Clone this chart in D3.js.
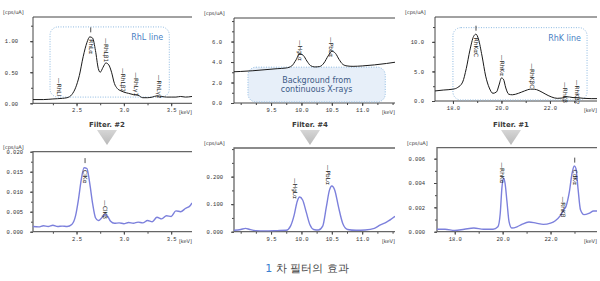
<!DOCTYPE html>
<html lang="ko">
<head>
<meta charset="utf-8">
<title>1 차 필터의 효과</title>
<script src="https://d3js.org/d3.v7.min.js"></script>
<style>
  body { margin: 0; background: #fff; }
  svg text { font-family: "DejaVu Sans", sans-serif; }
  .tick text { font-family: "Liberation Mono", monospace; font-size: 5.5px; fill: #333; }
  .tick line { stroke: #444; }
  .unit { font-size: 5px; fill: #333; }
  .peak { font-size: 5.8px; fill: #1a1a1a; }
</style>
</head>
<body>
<script>
// ---- data (keV, cps/uA) ----
var rhlKeV = [2.04, 2.15, 2.25, 2.35, 2.40, 2.45, 2.49, 2.53, 2.57, 2.61, 2.64, 2.67, 2.70, 2.73, 2.75, 2.78, 2.81, 2.84, 2.87, 2.90, 2.93, 2.97, 3.00, 3.05, 3.10, 3.15, 3.20, 3.25, 3.30, 3.35, 3.40, 3.45, 3.50, 3.55, 3.60, 3.65, 3.72];
var rhlCps = [0.06, 0.06, 0.07, 0.08, 0.09, 0.14, 0.25, 0.45, 0.75, 0.98, 1.07, 1.05, 0.85, 0.56, 0.50, 0.58, 0.65, 0.62, 0.50, 0.32, 0.24, 0.20, 0.18, 0.16, 0.14, 0.13, 0.09, 0.09, 0.10, 0.12, 0.11, 0.10, 0.10, 0.10, 0.11, 0.10, 0.11];

var bgKeV = [8.89, 9.00, 9.20, 9.40, 9.60, 9.75, 9.84, 9.91, 9.97, 10.03, 10.09, 10.15, 10.22, 10.30, 10.37, 10.44, 10.50, 10.56, 10.62, 10.68, 10.75, 10.85, 11.00, 11.20, 11.40, 11.54];
var bgCps = [3.05, 3.08, 3.15, 3.25, 3.35, 3.42, 3.62, 4.20, 4.80, 4.65, 4.10, 3.65, 3.52, 3.56, 3.90, 4.60, 5.05, 4.85, 4.25, 3.78, 3.62, 3.58, 3.62, 3.72, 3.86, 3.98];

var rhkKeV = [17.26, 17.60, 18.00, 18.20, 18.40, 18.55, 18.70, 18.85, 18.95, 19.05, 19.20, 19.35, 19.50, 19.65, 19.80, 19.90, 20.00, 20.08, 20.18, 20.30, 20.45, 20.70, 20.95, 21.20, 21.35, 21.55, 21.80, 22.05, 22.30, 22.50, 22.65, 22.80, 22.95, 23.15, 23.40, 23.70, 23.94];
var rhkCps = [1.70, 1.85, 2.00, 2.30, 3.20, 5.50, 8.60, 10.90, 11.30, 10.50, 7.60, 4.20, 2.20, 1.30, 1.55, 2.70, 3.90, 3.70, 2.20, 1.15, 1.05, 1.30, 1.70, 2.00, 2.00, 1.75, 1.20, 0.70, 0.45, 0.50, 0.72, 0.68, 0.58, 0.55, 0.45, 0.40, 0.40];

var clKeV = [2.04, 2.10, 2.15, 2.20, 2.25, 2.30, 2.35, 2.40, 2.45, 2.49, 2.52, 2.55, 2.58, 2.61, 2.64, 2.67, 2.70, 2.73, 2.76, 2.80, 2.83, 2.86, 2.90, 2.95, 3.00, 3.05, 3.10, 3.15, 3.20, 3.25, 3.30, 3.35, 3.40, 3.45, 3.50, 3.55, 3.60, 3.65, 3.70, 3.72];
var clCps = [0.0013, 0.0012, 0.0015, 0.0013, 0.0016, 0.0013, 0.0014, 0.0013, 0.0018, 0.0040, 0.0080, 0.0130, 0.0160, 0.0158, 0.0120, 0.0070, 0.0035, 0.0028, 0.0033, 0.0043, 0.0038, 0.0026, 0.0021, 0.0022, 0.0020, 0.0023, 0.0021, 0.0024, 0.0022, 0.0028, 0.0025, 0.0036, 0.0032, 0.0040, 0.0038, 0.0052, 0.0050, 0.0058, 0.0065, 0.0072];

var hgKeV = [8.89, 9.00, 9.08, 9.15, 9.25, 9.40, 9.60, 9.75, 9.82, 9.88, 9.93, 9.97, 10.02, 10.08, 10.14, 10.20, 10.28, 10.35, 10.41, 10.46, 10.50, 10.55, 10.61, 10.68, 10.76, 10.90, 11.05, 11.20, 11.30, 11.40, 11.54];
var hgCps = [0.005, 0.008, 0.012, 0.008, 0.004, 0.003, 0.004, 0.005, 0.020, 0.060, 0.110, 0.126, 0.115, 0.070, 0.025, 0.008, 0.006, 0.020, 0.090, 0.150, 0.166, 0.150, 0.090, 0.030, 0.008, 0.005, 0.006, 0.012, 0.025, 0.035, 0.056];

var cdKeV = [17.26, 17.60, 18.00, 18.40, 18.80, 19.20, 19.60, 19.80, 19.90, 19.97, 20.03, 20.10, 20.18, 20.27, 20.38, 20.60, 20.80, 21.10, 21.40, 21.70, 22.00, 22.20, 22.40, 22.55, 22.65, 22.78, 22.90, 22.99, 23.06, 23.15, 23.25, 23.40, 23.60, 23.80, 23.94];
var cdCps = [0.0002, 0.0002, 0.0001, 0.0002, 0.0003, 0.0002, 0.0002, 0.0004, 0.0015, 0.0036, 0.0044, 0.0040, 0.0025, 0.0008, 0.0003, 0.0004, 0.0006, 0.0008, 0.0007, 0.0006, 0.0007, 0.0009, 0.0013, 0.0018, 0.0021, 0.0032, 0.0048, 0.0054, 0.0052, 0.0035, 0.0018, 0.0014, 0.0015, 0.0017, 0.0017];

// peak labels: [text, keV, top of label in cps/uA, has marker]
var rhlPeaks = [["—RhLl", 2.31, 0.41, 0], ["RhLα", 2.65, 1.03, 1], ["—RhLβ1", 2.81, 1.05, 0], ["—RhLβ2", 2.99, 0.57, 0], ["—RhLγ1", 3.13, 0.50, 0], ["—RhLγ2", 3.37, 0.46, 0]];
var bgPeaks = [["—HgLα", 9.97, 6.15, 0], ["—PbLα", 10.48, 6.45, 0]];
var rhkPeaks = [["RhKαC", 18.95, 10.7, 1], ["—RhKα", 20.02, 7.8, 0], ["—RhKβC", 21.26, 6.4, 0], ["—RhKβ", 22.62, 3.2, 0], ["—RhKβ2", 23.12, 3.6, 0]];
var clPeaks = [["ClKα", 2.59, 0.0154, 1], ["—ClKβ", 2.80, 0.0079, 0]];
var hgPeaks = [["—HgLα", 9.90, 0.195, 0], ["—PbLα", 10.43, 0.243, 0]];
var cdPeaks = [["—RhKα", 19.97, 0.0057, 0], ["CdKα", 23.01, 0.0051, 1], ["—RhKβ", 22.51, 0.0029, 0]];

// tick values
var lowXTicks = [2.5, 3.0, 3.5];
var midXTicks = [9.5, 10.0, 10.5, 11.0];
var highXTicks = [18.0, 20.0, 22.0];
var rhlYTicks = [0, 0.5, 1.0];
var bgYTicks = [0, 2, 4, 6];
var rhkYTicks = [0, 5, 10];
var clYTicks = [0, 0.005, 0.010, 0.015, 0.020];
var hgYTicks = [0, 0.1, 0.2];
var cdYTicks = [0, 0.002, 0.004, 0.006];

var filterNames = ["Filter. #2", "Filter. #4", "Filter. #1"];

// ---- layout ----
var w = 600, h = 281;
var svg = d3.select("body").append("svg").attr("width", w).attr("height", h);

var panels = [
  {x0: 33, x1: 192, yt: 17, yb: 103.3, xd: [2.04, 3.72], yd: [0, 1.39], xt: lowXTicks, xm: 0.25, yt_: rhlYTicks, ym: 0.25, yf: ".2f", pad: 12, k: rhlKeV, v: rhlCps, peaks: rhlPeaks, top: true},
  {x0: 234, x1: 395, yt: 18, yb: 103, xd: [8.89, 11.54], yd: [0, 8.3], xt: midXTicks, xm: 0.25, yt_: bgYTicks, ym: 1, yf: ".1f", pad: 9, k: bgKeV, v: bgCps, peaks: bgPeaks, top: true},
  {x0: 435, x1: 597, yt: 17, yb: 101, xd: [17.26, 23.94], yd: [0, 14.2], xt: highXTicks, xm: 1, yt_: rhkYTicks, ym: 2.5, yf: ".1f", pad: 8, k: rhkKeV, v: rhkCps, peaks: rhkPeaks, top: true},
  {x0: 33, x1: 192, yt: 151.7, yb: 231.7, xd: [2.04, 3.72], yd: [0, 0.020], xt: lowXTicks, xm: 0.25, yt_: clYTicks, ym: 0.0025, yf: ".3f", pad: 7, k: clKeV, v: clCps, peaks: clPeaks, top: false},
  {x0: 234, x1: 395, yt: 148, yb: 231.7, xd: [8.89, 11.54], yd: [0, 0.304], xt: midXTicks, xm: 0.25, yt_: hgYTicks, ym: 0.05, yf: ".3f", pad: 8, k: hgKeV, v: hgCps, peaks: hgPeaks, top: false},
  {x0: 437, x1: 597, yt: 147.7, yb: 231.7, xd: [17.26, 23.94], yd: [0, 0.0069], xt: highXTicks, xm: 1, yt_: cdYTicks, ym: 0.001, yf: ".3f", pad: 9, k: cdKeV, v: cdCps, peaks: cdPeaks, top: false}
];

function steps(d, s) {
  var out = [];
  for (var t = Math.ceil(d[0] / s) * s; t <= d[1] + 1e-9; t += s) out.push(+t.toFixed(6));
  return out;
}

panels.forEach(function(p, i) {
  var x = d3.scaleLinear().domain(p.xd).range([p.x0, p.x1]);
  var y = d3.scaleLinear().domain(p.yd).range([p.yb, p.yt]);
  p.x = x; p.y = y;
  var g = svg.append("g");

  // minor ticks
  g.append("g").attr("transform", `translate(${p.x0},0)`)
    .call(d3.axisLeft(y).tickValues(steps(p.yd, p.ym)).tickSize(2).tickFormat("").tickSizeOuter(0))
    .call(a => a.select(".domain").remove());
  g.append("g").attr("transform", `translate(0,${p.yb})`)
    .call(d3.axisBottom(x).tickValues(steps(p.xd, p.xm)).tickSize(2).tickFormat("").tickSizeOuter(0))
    .call(a => a.select(".domain").remove());

  // major ticks
  g.append("g").attr("transform", `translate(${p.x0},0)`)
    .call(d3.axisLeft(y).tickValues(p.yt_).tickSize(3).tickPadding(p.pad).tickFormat(d3.format(p.yf)).tickSizeOuter(0))
    .call(a => a.select(".domain").remove());
  g.append("g").attr("transform", `translate(0,${p.yb})`)
    .call(d3.axisBottom(x).tickValues(p.xt).tickSize(3).tickPadding(2).tickFormat(d3.format(".1f")).tickSizeOuter(0))
    .call(a => a.select(".domain").remove());

  // frame: left, top, bottom
  g.append("path")
    .attr("d", `M${p.x1},${p.yt}H${p.x0}V${p.yb}H${p.x1}`)
    .attr("fill", "none").attr("stroke", p.top ? "#444" : "#666").attr("stroke-width", p.top ? 1 : 1.3);

  // units
  g.append("text").attr("class", "unit").attr("x", p.x0 - 30).attr("y", p.yt - 3).text("[cps/uA]");
  g.append("text").attr("class", "unit").attr("x", p.x1).attr("y", p.yb + 11).attr("text-anchor", "end").text("[keV]");

  // annotation boxes (top row only), drawn under the curve
  if (i === 0) box(g, p, 2.22, 3.48, 1.23, 0.10, false, ["RhL line"]);
  if (i === 1) box(g, p, 9.12, 11.38, 3.50, 0.10, true, ["Background from", "continuous X-rays"]);
  if (i === 2) box(g, p, 18.00, 23.53, 12.4, 0.17, false, ["RhK line"]);

  // spectrum
  var clipId = "clip" + i;
  svg.append("clipPath").attr("id", clipId).append("rect")
    .attr("x", p.x0).attr("y", p.yt).attr("width", p.x1 - p.x0).attr("height", p.yb - p.yt);
  g.append("path")
    .datum(d3.zip(p.k, p.v))
    .attr("clip-path", `url(#${clipId})`)
    .attr("fill", "none")
    .attr("stroke", p.top ? "#1a1a1a" : "#7c80dc")
    .attr("stroke-width", p.top ? 1 : 1.4)
    .attr("stroke-linejoin", "round")
    .attr("d", d3.line().x(d => x(d[0])).y(d => y(d[1])).curve(d3.curveMonotoneX));

  // peak labels
  p.peaks.forEach(function(pk) {
    var px = x(pk[1]), py = y(pk[2]);
    if (pk[3]) {
      g.append("line").attr("x1", px).attr("x2", px).attr("y1", py - 12).attr("y2", py - 7)
        .attr("stroke", "#222").attr("stroke-width", 0.8);
    }
    g.append("text").attr("class", "peak")
      .attr("transform", `translate(${px},${py}) rotate(90)`)
      .attr("dy", "0.35em")
      .text(pk[0]);
  });
});

function box(g, p, k0, k1, v0, v1, filled, lines) {
  var bx0 = p.x(k0), bx1 = p.x(k1), by0 = p.y(v0), by1 = p.y(v1);
  g.append("rect")
    .attr("x", bx0).attr("y", by0).attr("width", bx1 - bx0).attr("height", by1 - by0)
    .attr("rx", 8).attr("ry", 8)
    .attr("fill", filled ? "#e7eff9" : "none")
    .attr("stroke", "#8cb8e0").attr("stroke-width", 1)
    .attr("stroke-dasharray", "1,1.5");
  if (filled) {
    lines.forEach(function(t, j) {
      g.append("text").attr("x", (bx0 + bx1) / 2).attr("y", by0 + 16 + j * 9)
        .attr("text-anchor", "middle").attr("font-size", 8).attr("fill", "#3d5a86").text(t);
    });
  } else {
    g.append("text").attr("x", bx1 - 6).attr("y", by0 + 13)
      .attr("text-anchor", "end").attr("font-size", 8).attr("fill", "#4a7fc4").text(lines[0]);
  }
}

// filter captions with down arrows
var defs = svg.append("defs");
var grad = defs.append("linearGradient").attr("id", "arrowGrad").attr("x1", 0).attr("y1", 0).attr("x2", 0).attr("y2", 1);
grad.append("stop").attr("offset", "0%").attr("stop-color", "#d6d6d6");
grad.append("stop").attr("offset", "100%").attr("stop-color", "#b9b9b9");

var filterX = [107, 310, 511];
filterNames.forEach(function(name, i) {
  var cx = filterX[i];
  svg.append("text").attr("x", cx).attr("y", 127).attr("text-anchor", "middle")
    .attr("font-size", 7).attr("font-weight", "bold").attr("fill", "#3a3a3a").text(name);
  svg.append("path")
    .attr("d", `M${cx - 10},130 L${cx + 10},130 L${cx},145 Z`)
    .attr("fill", "url(#arrowGrad)");
});

// caption
var cap = svg.append("text").attr("x", 307).attr("y", 272).attr("text-anchor", "middle")
  .attr("font-size", 11).attr("font-family", "'Noto Sans CJK KR', sans-serif").attr("fill", "#444");
cap.append("tspan").attr("fill", "#3a7fd0").text("1");
cap.append("tspan").text(" 차 필터의 효과");
</script>
</body>
</html>
